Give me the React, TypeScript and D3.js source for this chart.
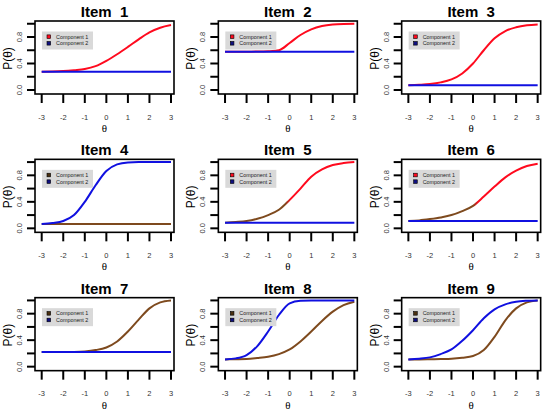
import { useEffect, useRef } from "react";
import * as d3 from "d3";

const RED   = "#FF0A1E";
const BLUE  = "#1010E0";
const BROWN = "#7E4A1E";

// theta grid the curves were read at
const THETA = [-3, -2.5, -2, -1.5, -1, -0.5, 0, 0.5, 1, 1.5, 2, 2.5, 3];

// P(theta), one row per item
const COMP1 = [
  [0.277, 0.28, 0.287, 0.3, 0.317, 0.36, 0.44, 0.54, 0.65, 0.765, 0.87, 0.94, 0.98],
  [0.579, 0.579, 0.579, 0.58, 0.585, 0.6, 0.71, 0.83, 0.915, 0.966, 0.99, 0.998, 1.0],
  [0.07, 0.078, 0.09, 0.115, 0.16, 0.25, 0.4, 0.6, 0.78, 0.89, 0.946, 0.976, 0.99],
  [0.065, 0.065, 0.065, 0.065, 0.065, 0.065, 0.065, 0.065, 0.065, 0.065, 0.065, 0.065, 0.065],
  [0.085, 0.095, 0.11, 0.145, 0.2, 0.28, 0.43, 0.6, 0.78, 0.89, 0.955, 0.985, 1.0],
  [0.11, 0.12, 0.14, 0.165, 0.2, 0.26, 0.34, 0.48, 0.63, 0.77, 0.87, 0.94, 0.976],
  [0.22, 0.22, 0.22, 0.222, 0.23, 0.25, 0.29, 0.38, 0.53, 0.71, 0.88, 0.97, 1.0],
  [0.11, 0.112, 0.115, 0.13, 0.15, 0.19, 0.26, 0.38, 0.53, 0.69, 0.83, 0.93, 0.98],
  [0.11, 0.11, 0.112, 0.115, 0.12, 0.135, 0.16, 0.25, 0.45, 0.7, 0.88, 0.97, 1.0],
];
const COMP2 = [
  [0.277, 0.277, 0.277, 0.277, 0.277, 0.277, 0.277, 0.277, 0.277, 0.277, 0.277, 0.277, 0.277],
  [0.579, 0.579, 0.579, 0.579, 0.579, 0.579, 0.579, 0.579, 0.579, 0.579, 0.579, 0.579, 0.579],
  [0.07, 0.07, 0.07, 0.07, 0.07, 0.07, 0.07, 0.07, 0.07, 0.07, 0.07, 0.07, 0.07],
  [0.065, 0.08, 0.11, 0.2, 0.4, 0.65, 0.865, 0.966, 0.995, 1.0, 1.0, 1.0, 1.0],
  [0.085, 0.085, 0.085, 0.085, 0.085, 0.085, 0.085, 0.085, 0.085, 0.085, 0.085, 0.085, 0.085],
  [0.11, 0.11, 0.11, 0.11, 0.11, 0.11, 0.11, 0.11, 0.11, 0.11, 0.11, 0.11, 0.11],
  [0.22, 0.22, 0.22, 0.22, 0.22, 0.22, 0.22, 0.22, 0.22, 0.22, 0.22, 0.22, 0.22],
  [0.11, 0.125, 0.175, 0.31, 0.53, 0.78, 0.956, 0.995, 1.0, 1.0, 1.0, 1.0, 1.0],
  [0.11, 0.12, 0.14, 0.19, 0.26, 0.39, 0.55, 0.73, 0.865, 0.94, 0.98, 0.995, 1.0],
];
// colour of component 1: red, brown, or brown up to a theta then red
const COMP1_STYLE: (number | "red" | "brown")[] = ["red", "red", "red", "brown", -0.2, 0, "brown", "brown", "brown"];

const X_TICKS = [-3, -2, -1, 0, 1, 2, 3];
const Y_TICKS = [0, 0.2, 0.4, 0.6, 0.8, 1.0];
const Y_LABELS = [0, 0.4, 0.8];
const LEGEND = ["Component 1", "Component 2"];

const W = 550, H = 415;
const PW = W / 3, PH = H / 3;
const FONT = "'Liberation Sans', Arial, sans-serif";

export default function App() {
  const svgRef = useRef<SVGSVGElement>(null);

  useEffect(() => {
    document.body.style.margin = "0";
    const svg = d3.select(svgRef.current!);
    svg.selectAll("*").remove();
    svg.append("rect").attr("width", W).attr("height", H).attr("fill", "#fff");
    const defs = svg.append("defs");

    const BL = 35, BR = 174, BT = 21, BB = 94;
    const x = d3.scaleLinear().domain([-3, 3]).range([41.7, 171]);
    const y = d3.scaleLinear().domain([0, 1]).range([90, 23.75]);
    const line = d3.line<number>().x((_, i) => x(THETA[i])).y(d => y(d)).curve(d3.curveMonotoneX);

    COMP1.forEach((c1, k) => {
      const col = k % 3, row = Math.floor(k / 3);
      const g = svg.append("g").attr("transform", `translate(${col * PW},${row * PH})`);

      // title
      g.append("text").attr("x", (BL + BR) / 2).attr("y", 17)
        .attr("text-anchor", "middle").attr("font-family", FONT)
        .attr("font-weight", 700).attr("font-size", 15)
        .style("white-space", "pre")
        .text(`Item  ${k + 1}`);

      // y axis
      Y_TICKS.forEach(t => {
        g.append("line").attr("x1", BL - 8).attr("x2", BL).attr("y1", y(t)).attr("y2", y(t))
          .attr("stroke", "#000").attr("stroke-width", 2);
      });
      Y_LABELS.forEach(t => {
        g.append("text").attr("transform", `translate(22,${y(t)}) rotate(-90)`)
          .attr("text-anchor", "middle").attr("font-family", FONT).attr("font-size", 7.5)
          .attr("fill", "#333").text(d3.format(".1f")(t));
      });
      g.append("text").attr("transform", `translate(12,${(BT + BB) / 2 + 1}) rotate(-90)`)
        .attr("text-anchor", "middle").attr("font-family", FONT).attr("font-size", 12)
        .text("P(θ)");

      // x axis
      X_TICKS.forEach(t => {
        g.append("line").attr("x1", x(t)).attr("x2", x(t)).attr("y1", BB).attr("y2", BB + 9)
          .attr("stroke", "#000").attr("stroke-width", 2);
        g.append("text").attr("x", x(t)).attr("y", 119.5)
          .attr("text-anchor", "middle").attr("font-family", FONT).attr("font-size", 7.5)
          .attr("fill", "#333").text(t);
      });
      g.append("text").attr("x", (BL + BR) / 2).attr("y", 132)
        .attr("text-anchor", "middle").attr("font-family", "'Liberation Serif', serif").attr("font-size", 11)
        .text("θ");

      // component 1 colour
      const style = COMP1_STYLE[k];
      const c1Color = style === "red" ? RED : style === "brown" ? BROWN : `url(#grad-${k})`;
      if (typeof style === "number") {
        const off = (x(style) - x(-3)) / (x(3) - x(-3));
        const gr = defs.append("linearGradient").attr("id", `grad-${k}`)
          .attr("gradientUnits", "userSpaceOnUse")
          .attr("x1", x(-3)).attr("x2", x(3)).attr("y1", 0).attr("y2", 0);
        gr.append("stop").attr("offset", 0).attr("stop-color", BROWN);
        gr.append("stop").attr("offset", off).attr("stop-color", BROWN);
        gr.append("stop").attr("offset", off + 0.04).attr("stop-color", RED);
        gr.append("stop").attr("offset", 1).attr("stop-color", RED);
      }
      const legendC1 = style === "brown" ? "#4a3010" : RED;

      // curves: component 2 drawn over component 1
      g.append("path").datum(c1).attr("d", line).attr("fill", "none")
        .attr("stroke", c1Color).attr("stroke-width", 2);
      g.append("path").datum(COMP2[k]).attr("d", line).attr("fill", "none")
        .attr("stroke", BLUE).attr("stroke-width", 2);

      // legend
      const LX = BL + 7, LY = BT + 10.5;
      g.append("rect").attr("x", LX).attr("y", LY).attr("width", 51).attr("height", 18).attr("fill", "#d9d9d9");
      LEGEND.forEach((lab, i) => {
        const cy = LY + 5.2 + i * 6.6;
        g.append("rect").attr("x", LX + 5).attr("y", cy - 1.8).attr("width", 3.6).attr("height", 3.6)
          .attr("fill", i === 0 ? legendC1 : "#101080").attr("stroke", "#000").attr("stroke-width", 0.6);
        g.append("text").attr("x", LX + 14).attr("y", cy + 1.9)
          .attr("font-family", FONT).attr("font-size", 5.4).attr("fill", "#222").text(lab);
      });

      // box
      g.append("rect").attr("x", BL).attr("y", BT).attr("width", BR - BL).attr("height", BB - BT)
        .attr("fill", "none").attr("stroke", "#000").attr("stroke-width", 1.6);
    });
  }, []);

  return <svg ref={svgRef} width={W} height={H} style={{ position: "absolute", left: 0, top: 0 }} />;
}
